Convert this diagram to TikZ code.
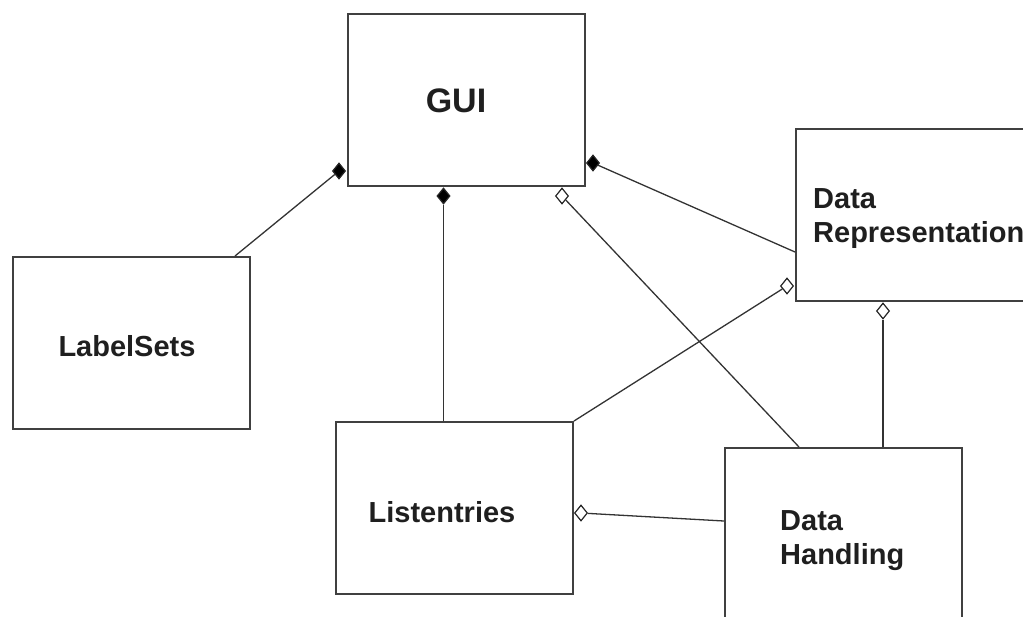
\documentclass[tikz,border=0pt]{standalone}
\usepackage{fontspec}
\setmainfont{Liberation Sans}
\usetikzlibrary{shapes.geometric}
\begin{document}
\begin{tikzpicture}[x=1pt,y=1pt,
  box/.style={draw=black!75, line width=2pt, minimum width=237pt, minimum height=172pt,
              inner sep=0pt, anchor=north west},
  lbl/.style={font=\fontsize{29}{34}\selectfont\bfseries, text=black!88, align=left, inner sep=0pt},
  link/.style={draw=black!80, line width=1.3pt},
  tipbase/.style={diamond, draw=black!85, line width=1.2pt, minimum width=13pt,
                  minimum height=16pt, inner sep=0pt},
  comp/.style={tipbase, fill=black},
  aggr/.style={tipbase, fill=white},
]
% origin at the top left corner, y running downwards as negative values
\useasboundingbox (0,0) rectangle (1023,-616);

% class boxes
\node[box] (gui) at (347,-13) {};
\node[box] (dr)  at (795,-128) {};
\node[box] (lab) at (12,-256) {};
\node[box] (lst) at (335,-421) {};
\node[box] (dh)  at (724,-447) {};

% class names
\node[lbl, font=\fontsize{34}{38}\selectfont\bfseries] (guit) at (456,-101) {GUI};
\node[lbl, anchor=north west] (drt) at (813,-188) {Data\\Representation};
\node[lbl] (labt) at (127,-346) {LabelSets};
\node[lbl] (lstt) at (442,-512) {Listentries};
\node[lbl, anchor=north west] (dht) at (780,-510) {Data\\Handling};

% diamonds on the side of the whole
\node[comp] (d1) at (339,-171) {};
\node[comp] (d2) at ([xshift=-11pt,yshift=-9pt]lst.north |- gui.south) {};
\node[comp] (d3) at (593,-163) {};
\node[aggr] (d4) at (562,-196) {};
\node[aggr] (d5) at (787,-286) {};
\node[aggr] (d6) at ([xshift=159pt,yshift=-9pt]dh.north west |- dr.south) {};
\node[aggr] (d7) at (581,-513) {};

% composition links
\draw[link] ([xshift=-16pt]lab.north east) -- (d1);
\draw[link] ([xshift=-11pt]lst.north) -- (d2);
\draw[link] ([yshift=-124pt]dr.north west) -- (d3);

% aggregation links
\draw[link] ([xshift=75pt]dh.north west) -- (d4);
\draw[link] (lst.north east) -- (d5);
\draw[link] ([xshift=159pt]dh.north west) -- (d6);
\draw[link] ([yshift=-74pt]dh.north west) -- (d7);
\end{tikzpicture}
\end{document}
